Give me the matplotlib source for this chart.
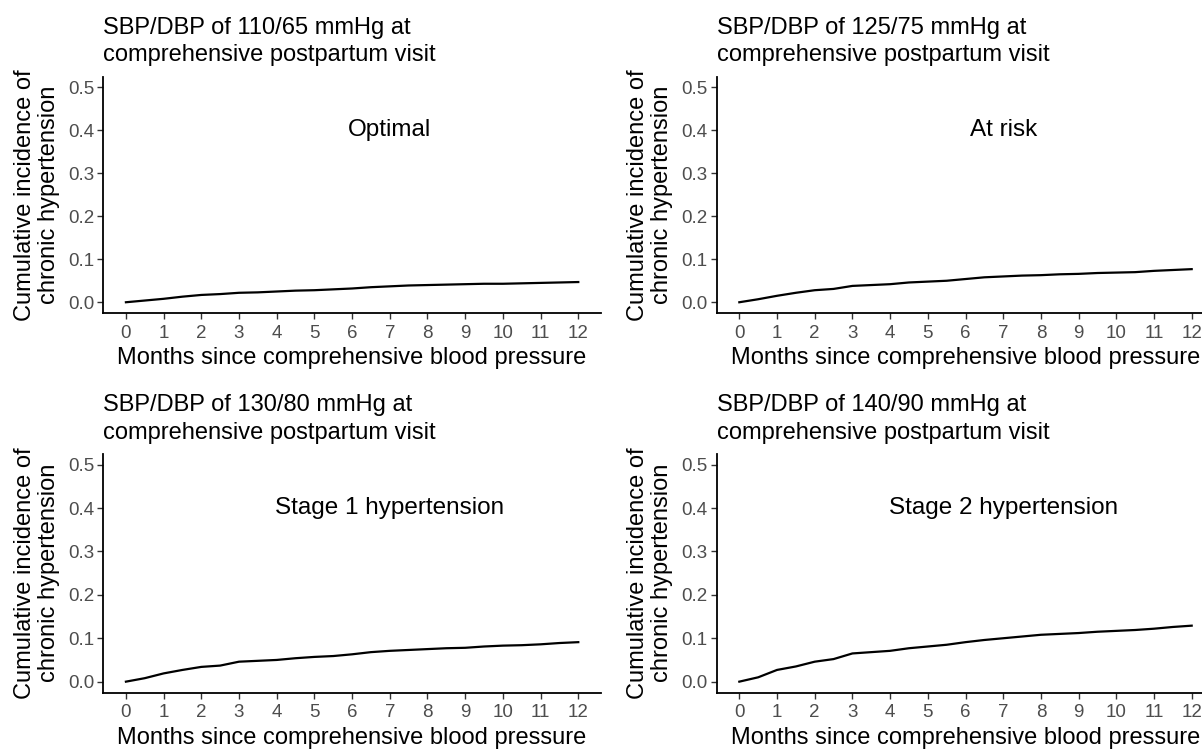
import matplotlib
matplotlib.use('Agg')
import matplotlib.pyplot as plt

plt.rcParams['font.family'] = ['Liberation Sans', 'DejaVu Sans']

# months since comprehensive blood pressure
months = [0, 0.5, 1, 1.5, 2, 2.5, 3, 3.5, 4, 4.5, 5, 5.5, 6, 6.5, 7, 7.5,
          8, 8.5, 9, 9.5, 10, 10.5, 11, 11.5, 12]

# cumulative incidence of chronic hypertension
optimal = [0.000, 0.004, 0.008, 0.013, 0.017, 0.019, 0.022, 0.023, 0.025, 0.027, 0.028, 0.030,
           0.032, 0.035, 0.037, 0.039, 0.040, 0.041, 0.042, 0.043, 0.043, 0.044, 0.045, 0.046, 0.047]
at_risk = [0.000, 0.007, 0.015, 0.022, 0.028, 0.031, 0.038, 0.040, 0.042, 0.046, 0.048, 0.050,
           0.054, 0.058, 0.060, 0.062, 0.063, 0.065, 0.066, 0.068, 0.069, 0.070, 0.073, 0.075, 0.077]
stage1 = [0.000, 0.008, 0.019, 0.027, 0.034, 0.037, 0.046, 0.048, 0.050, 0.054, 0.057, 0.059,
          0.063, 0.068, 0.071, 0.073, 0.075, 0.077, 0.078, 0.081, 0.083, 0.084, 0.086, 0.089, 0.091]
stage2 = [0.000, 0.010, 0.027, 0.035, 0.046, 0.052, 0.065, 0.068, 0.071, 0.077, 0.081, 0.085,
          0.091, 0.096, 0.100, 0.104, 0.108, 0.110, 0.112, 0.115, 0.117, 0.119, 0.122, 0.126, 0.129]

titles = ['SBP/DBP of 110/65 mmHg at\ncomprehensive postpartum visit',
          'SBP/DBP of 125/75 mmHg at\ncomprehensive postpartum visit',
          'SBP/DBP of 130/80 mmHg at\ncomprehensive postpartum visit',
          'SBP/DBP of 140/90 mmHg at\ncomprehensive postpartum visit']
labels = ['Optimal', 'At risk', 'Stage 1 hypertension', 'Stage 2 hypertension']
series = [optimal, at_risk, stage1, stage2]

xticks = list(range(0, 13))
yticks = [0.0, 0.1, 0.2, 0.3, 0.4, 0.5]

fig = plt.figure(figsize=(12.02, 7.5), dpi=100)

# panel boxes in figure fractions (left, bottom, width, height)
W = 1202.0
H = 750.0
boxes = [
    (103.3 / W, 1 - 313.0 / H, 497.6 / W, 236.5 / H),
    (716.7 / W, 1 - 313.0 / H, 497.6 / W, 236.5 / H),
    (103.3 / W, 1 - 692.5 / H, 497.6 / W, 238.7 / H),
    (716.7 / W, 1 - 692.5 / H, 497.6 / W, 238.7 / H),
]

for i in range(4):
    ax = fig.add_axes(boxes[i])
    ax.plot(months, series[i], color='black', linewidth=1.6, solid_joinstyle='round')
    ax.set_xlim(-0.6, 12.6)
    ax.set_ylim(-0.025, 0.525)
    ax.set_xticks(xticks)
    ax.set_yticks(yticks)
    ax.set_yticklabels(['%.1f' % v for v in yticks])
    for s in ['top', 'right']:
        ax.spines[s].set_visible(False)
    for s in ['left', 'bottom']:
        ax.spines[s].set_linewidth(1.3)
        ax.spines[s].set_color('black')
    ax.tick_params(axis='both', length=4, width=1.0, color='#333333',
                   labelsize=13.5, labelcolor='#4D4D4D', pad=2.5)
    ax.tick_params(axis='x', pad=4.5)
    ax.set_title(titles[i], loc='left', fontsize=17, pad=11, linespacing=1.3)
    ax.set_xlabel('Months since comprehensive blood pressure', fontsize=17, labelpad=4)
    ax.set_ylabel('Cumulative incidence of\nchronic hypertension', fontsize=17,
                  labelpad=6, linespacing=1.1)
    ax.text(7, 0.4, labels[i], ha='center', va='center', fontsize=17.5)

fig.savefig('out.png', dpi=100)
